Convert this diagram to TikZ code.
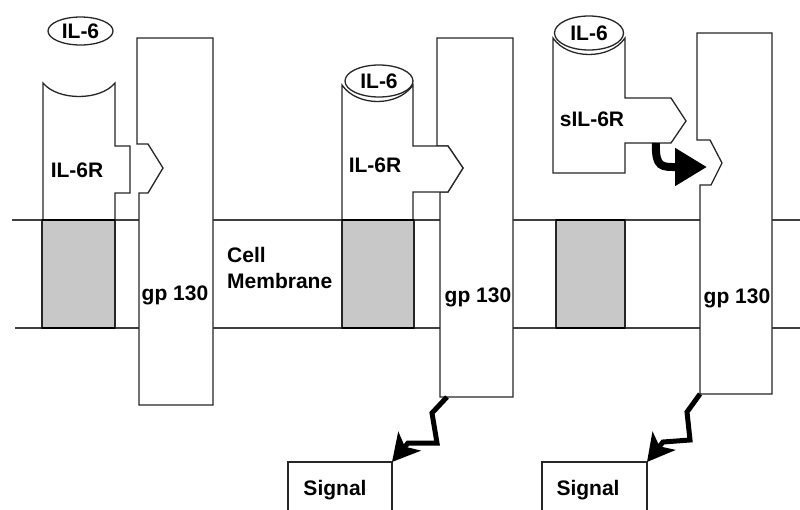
\documentclass[tikz,border=0pt]{standalone}
\usepackage{fontspec}
\setmainfont{Liberation Sans}
\usetikzlibrary{arrows.meta,shapes.geometric}
\definecolor{membgray}{RGB}{200,200,200}
\begin{document}
\begin{tikzpicture}[x=1pt,y=-1pt,
  outl/.style={draw=black!85, line width=1.3pt, line join=miter, fill=white},
  membline/.style={draw=black!75, line width=1.2pt},
  graybox/.style={draw=black!85, line width=1.3pt, fill=membgray},
  grayedge/.style={draw=black, line width=2.6pt},
  lbl/.style={font=\fontsize{21}{26}\selectfont\bfseries, inner sep=0pt, anchor=base},
  ligand/.style={draw=black!85, line width=1.3pt, ellipse, inner sep=0pt, font=\fontsize{21}{26}\selectfont\bfseries},
  zig/.style={draw=black, line width=5pt, line join=miter, -{Stealth[length=27pt,width=29pt,inset=7pt]}},
  bent/.style={draw=black, line width=8pt, -{Triangle[length=32pt,width=36pt]}},
  sigbox/.style={draw=black!85, line width=1.3pt}
]
\useasboundingbox (0,0) rectangle (800,509);
\clip (0,0) rectangle (800,509);

% membrane
\coordinate (mTL) at (12,220); \coordinate (mTR) at (800,220);
\coordinate (mBL) at (15,328); \coordinate (mBR) at (800,328);
\draw[membline] (mTL) -- (mTR);
\draw[membline] (mBL) -- (mBR);

% gp130 receptors
\path[outl] (137,38) -- (213,38) -- (213,405) -- (139,405) -- (139,193) -- (148,193) -- (163,168) -- (148,144) -- (137,144) -- cycle;
\path[outl] (437,38) -- (513,38) -- (513,397) -- (440,397) -- (440,192) -- (448,192) -- (463,168) -- (448,146) -- (437,146) -- cycle;
\path[outl] (697,33) -- (772,33) -- (772,394) -- (700,394) -- (700,185) -- (711,185) -- (722,163) -- (710,140) -- (697,140) -- cycle;

% IL-6R (left, middle) and sIL-6R (right)
\path[outl] (43,220) -- (43,83) .. controls (58,101) and (100,101) .. (115,83) -- (115,146) -- (130,146) -- (130,193) -- (115,193) -- (115,220) -- cycle;
\path[outl] (342,220) -- (342,85) .. controls (357,107) and (398,107) .. (413,85) -- (413,146) -- (448,146) -- (463,168) -- (448,192) -- (413,192) -- (413,220) -- cycle;
\path[outl] (553,173) -- (553,38) .. controls (568,60) and (610,60) .. (625,38) -- (625,98) -- (671,98) -- (686,121) -- (671,143) -- (625,143) -- (625,173) -- cycle;

% transmembrane segments
\foreach \xa/\xb in {42/115, 342/414, 556/625}{
  \path[graybox] (\xa,220) rectangle (\xb,328);
  \draw[grayedge] (\xa,220) -- (\xb,220);
  \draw[grayedge] (\xa,328) -- (\xb,328);
}

% ligands
\node[ligand, minimum width=65pt, minimum height=28pt] (il6a) at (80.5,31) {IL-6};
\node[ligand, minimum width=68pt, minimum height=32pt] (il6b) at (379,81) {IL-6};
\node[ligand, minimum width=69pt, minimum height=34pt] (il6c) at (589,33) {IL-6};

% labels
\node[lbl] (r1) at (77,177) {IL-6R};
\node[lbl] (r2) at (375,172) {IL-6R};
\node[lbl] (r3) at (592,126) {sIL-6R};
\node[lbl] (g1) at (175,300) {gp 130};
\node[lbl] (g2) at (478,302) {gp 130};
\node[lbl] (g3) at (737,303) {gp 130};
\node[font=\fontsize{21}{26}\selectfont\bfseries, inner sep=0pt, anchor=north west, align=left] (cm) at (227,247) {Cell\\Membrane};

% signal boxes
\coordinate (sigM) at (392,462);
\coordinate (sigR) at (647,462);
\draw[sigbox] (288,515) -- (288,462) -- (sigM) -- (392,515);
\draw[sigbox] (542,515) -- (542,462) -- (sigR) -- (647,515);
\node[lbl] (s1) at (335,495) {Signal};
\node[lbl] (s2) at (588,495) {Signal};

% signalling arrows
\coordinate (gpM) at (447,397);
\coordinate (gpR) at (700,394);
\draw[zig] (gpM) -- (432,413) -- (437,443) -- (408,443) -- (sigM);
\draw[zig] (gpR) -- (687,412) -- (690,440) -- (663,442) -- (sigR);

% sIL-6R binding arrow
\coordinate (bS) at (656,143);
\coordinate (bT) at (707,167);
\draw[bent] (bS) .. controls (655,168) and (662,167) .. (bT);
\end{tikzpicture}
\end{document}
